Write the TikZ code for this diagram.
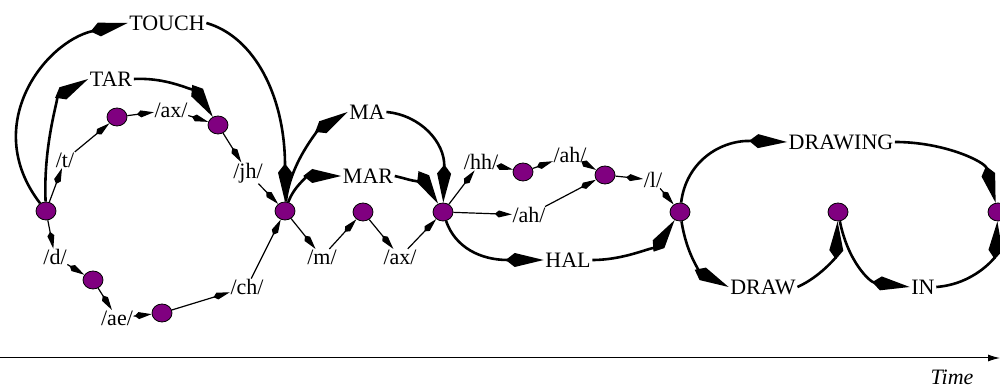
\documentclass[tikz,border=0pt]{standalone}
\usepackage{fontspec}
\setmainfont{Liberation Serif}
\usetikzlibrary{arrows.meta,shapes.geometric}
\definecolor{dotpurple}{RGB}{128,0,128}
\begin{document}
\begin{tikzpicture}[x=1pt,y=1pt,
  dot/.style={ellipse, draw=black, line width=0.8pt, fill=dotpurple, minimum width=20pt, minimum height=18pt, inner sep=0pt},
  word/.style={font=\fontsize{22}{24}\selectfont, inner sep=1.5pt},
  phone/.style={font=\fontsize{22}{24}\selectfont, inner sep=0.5pt},
  big/.style={line width=2.6pt, -{Kite[length=38pt,width=14pt,inset=9pt]}},
  small/.style={line width=1.2pt, -{Kite[length=17pt,width=7pt,inset=4pt]}}]
\useasboundingbox (0,0) rectangle (1000,387);
% states
\node[dot] (n1) at (46,176) {};
\node[dot] (tnode) at (117,270) {};
\node[dot] (axnode) at (218,262) {};
\node[dot] (hub) at (285,176) {};
\node[dot] (dnode) at (93,107) {};
\node[dot] (aenode) at (162,74) {};
\node[dot] (mnode) at (363,175) {};
\node[dot] (mahub) at (443,175) {};
\node[dot] (hhnode) at (523,215) {};
\node[dot] (ahnode) at (605,212) {};
\node[dot] (lhub) at (680,175) {};
\node[dot] (drawhub) at (838,175) {};
\node[dot] (endn) at (998,175) {};
% word labels
\node[word] (touch) at (167,364) {TOUCH};
\node[word] (tar) at (111,308) {TAR};
\node[word] (ma) at (367,275) {MA};
\node[word] (mar) at (368,211) {MAR};
\node[word] (hal) at (568,127) {HAL};
\node[word] (drawing) at (841,245) {DRAWING};
\node[word] (draw) at (763,100) {DRAW};
\node[word] (in) at (923,100) {IN};
% phone labels
\node[phone] (ax1) at (171,277) {/ax/};
\node[phone] (t) at (65,227) {/t/};
\node[phone] (jh) at (248,214) {/jh/};
\node[phone] (d) at (55,130) {/d/};
\node[phone] (ae) at (117,69) {/ae/};
\node[phone] (ch) at (247,100) {/ch/};
\node[phone] (m) at (322,130) {/m/};
\node[phone] (ax2) at (400,130) {/ax/};
\node[phone] (hh) at (481,225) {/hh/};
\node[phone] (ah1) at (570,232) {/ah/};
\node[phone] (ah2) at (529,172) {/ah/};
\node[phone] (l) at (653,207) {/l/};
% word-level arcs
\draw[big] (n1) .. controls (-20,262) and (45,345) .. (touch.west);
\draw[big] (touch.east) .. controls (255,350) and (285,290) .. (hub);
\draw[big] (n1) .. controls (43,245) and (60,292) .. (tar.west);
\draw[big] (tar.east) .. controls (175,310) and (200,290) .. (axnode);
\draw[big] (hub) .. controls (290,225) and (320,258) .. (ma.west);
\draw[big] (ma.east) .. controls (420,272) and (445,245) .. (mahub);
\draw[big] (hub) .. controls (295,203) and (310,211) .. (mar.west);
\draw[big] (mar.east) .. controls (412,207) and (428,200) .. (mahub);
\draw[big] (mahub) .. controls (455,140) and (480,127) .. (hal.west);
\draw[big] (hal.east) .. controls (630,127) and (660,145) .. (lhub);
\draw[big] (lhub) .. controls (686,225) and (720,247) .. (drawing.west);
\draw[big] (drawing.east) .. controls (945,245) and (985,225) .. (endn);
\draw[big] (lhub) .. controls (688,125) and (705,112) .. (draw.west);
\draw[big] (draw.east) .. controls (820,110) and (836,130) .. (drawhub);
\draw[big] (drawhub) .. controls (848,125) and (870,105) .. (in.west);
\draw[big] (in.east) .. controls (975,103) and (995,130) .. (endn);
% phone-level arcs
\draw[small] (n1) -- (t);
\draw[small] (t) -- (tnode);
\draw[small] (tnode) -- (ax1);
\draw[small] (ax1) -- (axnode);
\draw[small] (axnode) -- (jh);
\draw[small] (jh) -- (hub);
\draw[small] (n1) -- (d);
\draw[small] (d) -- (dnode);
\draw[small] (dnode) -- (ae);
\draw[small] (ae) -- (aenode);
\draw[small] (aenode) -- (ch);
\draw[small] (ch) -- (hub);
\draw[small] (hub) -- (m);
\draw[small] (m) -- (mnode);
\draw[small] (mnode) -- (ax2);
\draw[small] (ax2) -- (mahub);
\draw[small] (mahub) -- (hh);
\draw[small] (hh) -- (hhnode);
\draw[small] (hhnode) -- (ah1);
\draw[small] (ah1) -- (ahnode);
\draw[small] (ahnode) -- (l);
\draw[small] (l) -- (lhub);
\draw[small] (mahub) -- (ah2);
\draw[small] (ah2) -- (ahnode);
% time axis
\coordinate (axl) at (0,29);
\coordinate (axr) at (1000,29);
\draw[line width=1pt, -{Latex[length=12pt,width=7pt]}] (axl) -- (axr);
\node[font=\fontsize{22}{24}\selectfont\itshape] (time) at (952,10) {Time};
\end{tikzpicture}
\end{document}
